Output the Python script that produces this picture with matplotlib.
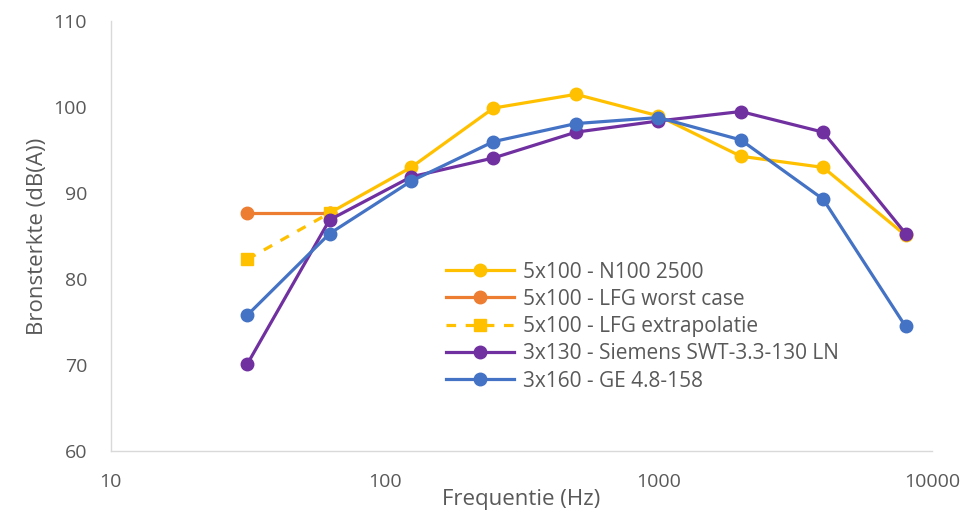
import numpy as np
import matplotlib
matplotlib.use("Agg")
import matplotlib.pyplot as plt
from matplotlib.ticker import FixedLocator, FixedFormatter, NullLocator

# -------------------------
# Data
# -------------------------
freq = [31.5, 63, 125, 250, 500, 1000, 2000, 4000, 8000]

n100_freq = [63, 125, 250, 500, 1000, 2000, 4000, 8000]
n100 = [87.7, 93.0, 99.9, 101.5, 99.0, 94.3, 93.0, 85.1]

lfg_worst_freq = [31.5, 63]
lfg_worst = [87.7, 87.7]

lfg_extra_freq = [31.5, 63]
lfg_extra = [82.3, 87.7]

siemens = [70.1, 86.9, 91.9, 94.1, 97.1, 98.4, 99.5, 97.1, 85.3]
ge = [75.8, 85.3, 91.4, 96.0, 98.1, 98.8, 96.2, 89.3, 74.5]

labels = [
    "5x100 - N100 2500",
    "5x100 - LFG worst case",
    "5x100 - LFG extrapolatie",
    "3x130 - Siemens SWT-3.3-130 LN",
    "3x160 - GE 4.8-158",
]

x_ticks = [10, 100, 1000, 10000]
x_ticklabels = ["10", "100", "1000", "10000"]
y_ticks = [60, 70, 80, 90, 100, 110]

YELLOW = "#FFC000"
ORANGE = "#ED7D31"
PURPLE = "#7030A0"
BLUE = "#4472C4"
TEXT = "#595959"

plt.rcParams["font.family"] = ["Open Sans", "DejaVu Sans"]

fig = plt.figure(figsize=(9.71, 5.18), dpi=100)
ax = fig.add_axes([0.114, 0.129, 0.846, 0.830])

lw = 2.3
ms = 9
ax.plot(n100_freq, n100, color=YELLOW, lw=lw, marker="o", ms=ms, label=labels[0])
ax.plot(lfg_worst_freq, lfg_worst, color=ORANGE, lw=lw, marker="o", ms=ms, label=labels[1])
ax.plot(lfg_extra_freq, lfg_extra, color=YELLOW, lw=lw, ls=(0, (3, 3)),
        marker="s", ms=ms - 1, label=labels[2])
ax.plot(freq, siemens, color=PURPLE, lw=lw, marker="o", ms=ms, label=labels[3])
ax.plot(freq, ge, color=BLUE, lw=lw, marker="o", ms=ms, label=labels[4])

ax.set_xscale("log")
ax.set_xlim(10, 10000)
ax.set_ylim(60, 110)
ax.xaxis.set_major_locator(FixedLocator(x_ticks))
ax.xaxis.set_major_formatter(FixedFormatter(x_ticklabels))
ax.xaxis.set_minor_locator(NullLocator())
ax.set_yticks(y_ticks)

ax.tick_params(axis="both", length=0, labelsize=14, colors=TEXT)
ax.tick_params(axis="y", pad=17)
ax.tick_params(axis="x", pad=16)

for s in ["top", "right"]:
    ax.spines[s].set_visible(False)
for s in ["left", "bottom"]:
    ax.spines[s].set_color("#D9D9D9")
    ax.spines[s].set_linewidth(1.0)

ax.set_xlabel("Frequentie (Hz)", fontsize=16, color=TEXT, labelpad=-2)
ax.set_ylabel("Bronsterkte (dB(A))", fontsize=16, color=TEXT, labelpad=4)

leg = ax.legend(loc="upper left", bbox_to_anchor=(0.39, 0.475), frameon=False,
                fontsize=15, handlelength=3.3, labelspacing=0.3, handletextpad=0.4,
                borderpad=0.2)
for t in leg.get_texts():
    t.set_color(TEXT)

fig.savefig("out.png", dpi=100)
